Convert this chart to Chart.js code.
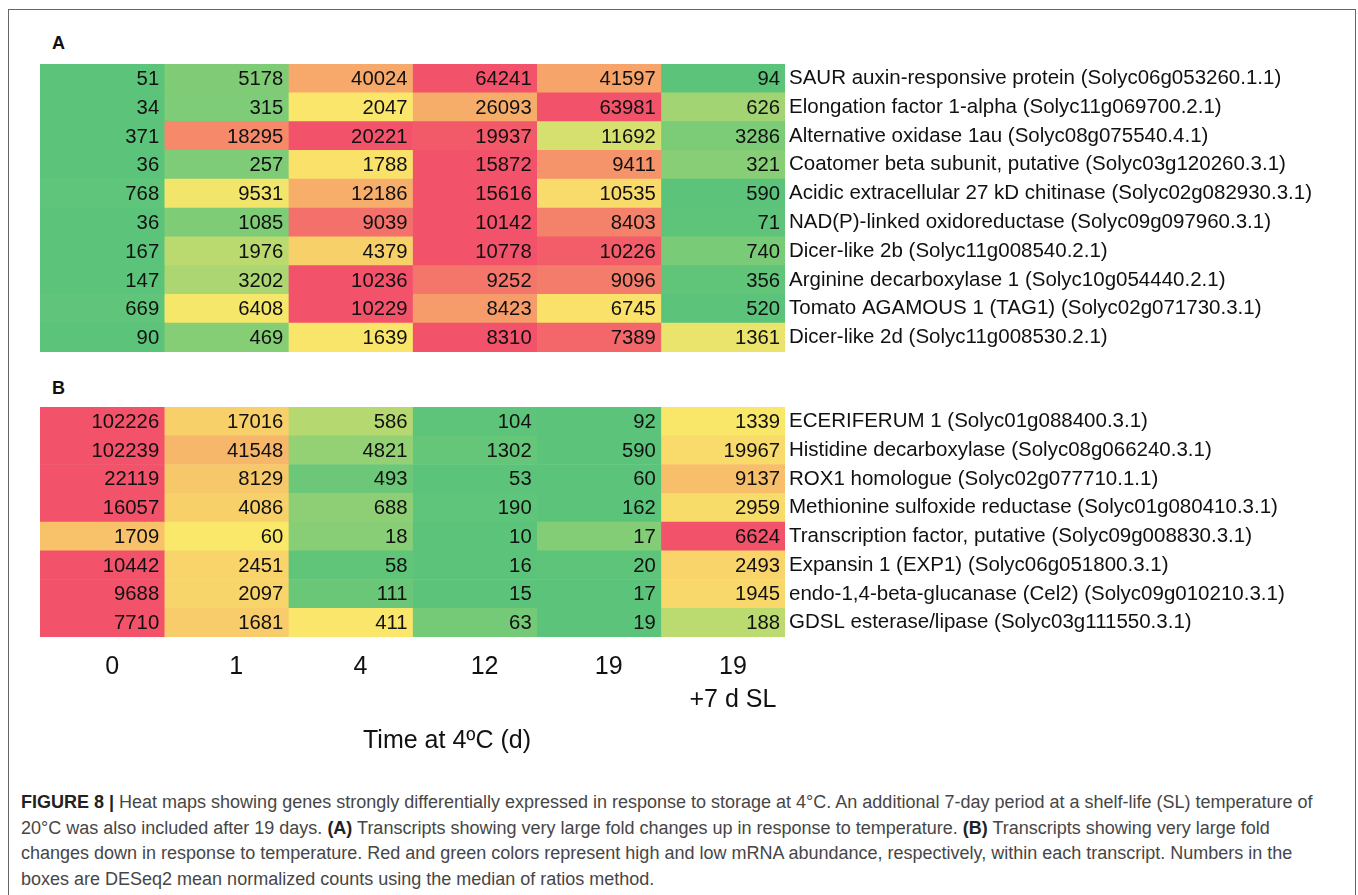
<!DOCTYPE html>
<html>
<head>
<meta charset="utf-8">
<script src="https://cdn.jsdelivr.net/npm/chart.js@4.4.1/dist/chart.umd.min.js"></script>
<style>
  body { margin: 0; background: #fff; font-family: 'Liberation Sans', Arial, Helvetica, sans-serif; }
  #page  { position: relative; width: 1358px; height: 895px; overflow: hidden; }
  .frame { position: absolute; left: 8px; top: 9px; width: 1346px; height: 1000px; border: 1.5px solid #666; }
  .panel { position: absolute; left: 52px; font-weight: bold; font-size: 18px; line-height: 20px; color: #111; }
  .holder { position: absolute; left: 40px; }
  .xtitle { position: absolute; left: 347px; width: 200px; text-align: center; top: 724px; font-size: 25px; line-height: 30px; color: #111; }
  .caption { position: absolute; left: 21px; top: 790px; font-size: 18px; line-height: 25.5px; color: #464646; white-space: nowrap; }
  .caption b { color: #222; }
</style>
</head>
<body>
<div id="page">
  <div class="frame"></div>
  <div class="panel" style="top:33px">A</div>
  <div class="holder" style="top:64px"><canvas id="heatA" width="1305" height="288"></canvas></div>
  <div class="panel" style="top:378px">B</div>
  <div class="holder" style="top:407px"><canvas id="heatB" width="1305" height="330"></canvas></div>
  <div class="xtitle">Time at 4ºC (d)</div>
  <div class="caption">
    <div><b>FIGURE 8 |</b> Heat maps showing genes strongly differentially expressed in response to storage at 4°C. An additional 7-day period at a shelf-life (SL) temperature of</div>
    <div>20°C was also included after 19 days. <b>(A)</b> Transcripts showing very large fold changes up in response to temperature. <b>(B)</b> Transcripts showing very large fold</div>
    <div>changes down in response to temperature. Red and green colors represent high and low mRNA abundance, respectively, within each transcript. Numbers in the</div>
    <div>boxes are DESeq2 mean normalized counts using the median of ratios method.</div>
  </div>
</div>
<script>
// time points (columns)
const timeLabels = ['0', '1', '4', '12', '19', ['19', '+7 d SL']];

// panel A - up in response to cold
const genesA = [
  'SAUR auxin-responsive protein (Solyc06g053260.1.1)',
  'Elongation factor 1-alpha (Solyc11g069700.2.1)',
  'Alternative oxidase 1au (Solyc08g075540.4.1)',
  'Coatomer beta subunit, putative (Solyc03g120260.3.1)',
  'Acidic extracellular 27 kD chitinase (Solyc02g082930.3.1)',
  'NAD(P)-linked oxidoreductase (Solyc09g097960.3.1)',
  'Dicer-like 2b (Solyc11g008540.2.1)',
  'Arginine decarboxylase 1 (Solyc10g054440.2.1)',
  'Tomato AGAMOUS 1 (TAG1) (Solyc02g071730.3.1)',
  'Dicer-like 2d (Solyc11g008530.2.1)'
];
const countsA = [
  [51, 5178, 40024, 64241, 41597, 94],
  [34, 315, 2047, 26093, 63981, 626],
  [371, 18295, 20221, 19937, 11692, 3286],
  [36, 257, 1788, 15872, 9411, 321],
  [768, 9531, 12186, 15616, 10535, 590],
  [36, 1085, 9039, 10142, 8403, 71],
  [167, 1976, 4379, 10778, 10226, 740],
  [147, 3202, 10236, 9252, 9096, 356],
  [669, 6408, 10229, 8423, 6745, 520],
  [90, 469, 1639, 8310, 7389, 1361]
];

// panel B - down in response to cold
const genesB = [
  'ECERIFERUM 1 (Solyc01g088400.3.1)',
  'Histidine decarboxylase (Solyc08g066240.3.1)',
  'ROX1 homologue (Solyc02g077710.1.1)',
  'Methionine sulfoxide reductase (Solyc01g080410.3.1)',
  'Transcription factor, putative (Solyc09g008830.3.1)',
  'Expansin 1 (EXP1) (Solyc06g051800.3.1)',
  'endo-1,4-beta-glucanase (Cel2) (Solyc09g010210.3.1)',
  'GDSL esterase/lipase (Solyc03g111550.3.1)'
];
const countsB = [
  [102226, 17016, 586, 104, 92, 1339],
  [102239, 41548, 4821, 1302, 590, 19967],
  [22119, 8129, 493, 53, 60, 9137],
  [16057, 4086, 688, 190, 162, 2959],
  [1709, 60, 18, 10, 17, 6624],
  [10442, 2451, 58, 16, 20, 2493],
  [9688, 2097, 111, 15, 17, 1945],
  [7710, 1681, 411, 63, 19, 188]
];

const FONT = "'Liberation Sans', Arial, Helvetica, sans-serif";
const LOW  = [92, 196, 122];   // green
const MID  = [249, 232, 106];  // yellow
const HIGH = [242, 82, 106];   // red
const LABEL_W = 560;

// 3-colour scale per transcript: min green, median yellow, max red
function rowColor(row, v) {
  const s = [...row].sort((a, b) => a - b);
  const n = s.length;
  const med = n % 2 ? s[(n - 1) / 2] : (s[n / 2 - 1] + s[n / 2]) / 2;
  const lo = s[0], hi = s[n - 1];
  let a, b, t;
  if (v <= med) { a = LOW; b = MID; t = med > lo ? (v - lo) / (med - lo) : 0; }
  else          { a = MID; b = HIGH; t = hi > med ? (v - med) / (hi - med) : 1; }
  const c = a.map((x, i) => Math.round(x + (b[i] - x) * t));
  return `rgb(${c[0]},${c[1]},${c[2]})`;
}

const cellText = {
  id: 'cellText',
  afterDatasetsDraw(chart) {
    const { ctx, scales: { x } } = chart;
    const counts = chart.config.options.counts;
    ctx.save();
    ctx.font = `20.3px ${FONT}`;
    ctx.fillStyle = '#111';
    ctx.textAlign = 'right';
    ctx.textBaseline = 'middle';
    chart.data.datasets.forEach((ds, ci) => {
      chart.getDatasetMeta(ci).data.forEach((bar, ri) => {
        ctx.fillText(String(counts[ri][ci]), x.getPixelForValue(ci + 1) - 5, bar.y + 1);
      });
    });
    ctx.restore();
  }
};

function heatmap(id, genes, counts, showX) {
  return new Chart(document.getElementById(id), {
    type: 'bar',
    data: {
      labels: genes,
      datasets: timeLabels.map((t, ci) => ({
        data: counts.map(() => [ci, ci + 1]),
        backgroundColor: counts.map(row => rowColor(row, row[ci])),
        borderWidth: 0,
        barPercentage: 1,
        categoryPercentage: 1,
        grouped: false
      }))
    },
    options: {
      counts,
      indexAxis: 'y',
      responsive: false,
      animation: false,
      layout: { padding: 0 },
      plugins: { legend: { display: false }, tooltip: { enabled: false } },
      scales: {
        x: {
          type: 'linear', min: 0, max: 6, display: showX, position: 'bottom',
          grid: { display: false, drawTicks: false }, border: { display: false },
          afterBuildTicks: s => { s.ticks = timeLabels.map((t, i) => ({ value: i + 0.5 })); },
          ticks: {
            callback: (v, i) => timeLabels[i],
            labelOffset: 10, padding: 14, maxRotation: 0, autoSkip: false,
            color: '#111', font: { family: FONT, size: 25, lineHeight: 1.3 }
          },
          afterFit: s => {
            if (showX) s.height = 100;
            s.paddingLeft = 0; s.paddingRight = 0;
          }
        },
        y: {
          position: 'right',
          grid: { display: false, drawTicks: false }, border: { display: false },
          ticks: { crossAlign: 'near', padding: 4, autoSkip: false, color: '#111', font: { family: FONT, size: 20.5 } },
          afterFit: s => { s.width = LABEL_W; s.paddingTop = 0; s.paddingBottom = 0; }
        }
      }
    },
    plugins: [cellText]
  });
}

heatmap('heatA', genesA, countsA, false);
heatmap('heatB', genesB, countsB, true);
</script>
</body>
</html>
